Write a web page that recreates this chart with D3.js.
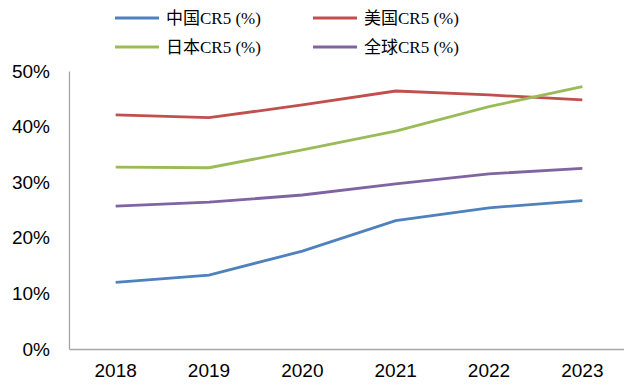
<!DOCTYPE html>
<html lang="zh">
<head>
	<meta charset="utf-8">
	<title>CR5</title>
	<script src="https://cdn.jsdelivr.net/npm/d3@7/dist/d3.min.js"></script>
	<style>
		body { margin: 0; background: #fff; }
	</style>
</head>
<body>
<script>
	// Data
	var years = ["2018", "2019", "2020", "2021", "2022", "2023"];
	var china = [12.0, 13.3, 17.6, 23.1, 25.4, 26.7];
	var usa = [42.1, 41.6, 43.9, 46.4, 45.7, 44.8];
	var japan = [32.7, 32.6, 35.8, 39.2, 43.6, 47.2];
	var world = [25.7, 26.4, 27.7, 29.7, 31.5, 32.5];
	var yTicks = [0, 10, 20, 30, 40, 50];

	var series = [
		{name: "中国CR5 (%)", values: china, color: "#4f81bd"},
		{name: "美国CR5 (%)", values: usa, color: "#c0504d"},
		{name: "日本CR5 (%)", values: japan, color: "#9bbb59"},
		{name: "全球CR5 (%)", values: world, color: "#8064a2"}
	];

	var width = 624, height = 385;
	var margin = {top: 71, right: -5, bottom: 36, left: 69};
	var plotW = width - margin.left - margin.right;
	var plotH = height - margin.top - margin.bottom;

	var svg = d3.select("body").append("svg")
		.attr("width", width)
		.attr("height", height);

	var g = svg.append("g")
		.attr("transform", "translate(" + margin.left + "," + margin.top + ")");

	var xScale = d3.scaleBand().domain(years).range([0, plotW]);
	var yScale = d3.scaleLinear().domain([0, 50]).range([plotH, 0]);

	// Y axis
	var yAxis = d3.axisLeft(yScale)
		.tickValues(yTicks)
		.tickSize(0)
		.tickPadding(19)
		.tickFormat(function(d) { return d + "%"; });
	var yg = g.append("g").call(yAxis);
	yg.select(".domain").attr("stroke", "#a6a6a6").attr("stroke-width", 1.3);
	yg.selectAll("text")
		.attr("font-family", "Liberation Sans, Arial, sans-serif")
		.attr("font-size", 19)
		.attr("fill", "#000");

	// X axis
	var xAxis = d3.axisBottom(xScale).tickSize(0).tickPadding(15);
	var xg = g.append("g")
		.attr("transform", "translate(0," + plotH + ")")
		.call(xAxis);
	xg.select(".domain").attr("stroke", "#a6a6a6").attr("stroke-width", 1.3);
	xg.selectAll("text")
		.attr("font-family", "Liberation Sans, Arial, sans-serif")
		.attr("font-size", 19)
		.attr("fill", "#000");

	// Lines
	var line = d3.line()
		.x(function(d, i) { return xScale(years[i]) + xScale.bandwidth() / 2; })
		.y(function(d) { return yScale(d); });

	g.selectAll(".series")
		.data(series)
		.enter()
		.append("path")
		.attr("class", "series")
		.attr("d", function(d) { return line(d.values); })
		.attr("fill", "none")
		.attr("stroke", function(d) { return d.color; })
		.attr("stroke-width", 2.8);

	// Legend
	var legend = svg.append("g");
	var legendPos = [[115, 18], [313, 18], [115, 47], [313, 47]];
	var items = legend.selectAll("g")
		.data(series)
		.enter()
		.append("g")
		.attr("transform", function(d, i) { return "translate(" + legendPos[i][0] + "," + legendPos[i][1] + ")"; });
	items.append("line")
		.attr("x1", 0).attr("x2", 44)
		.attr("y1", 0).attr("y2", 0)
		.attr("stroke", function(d) { return d.color; })
		.attr("stroke-width", 3.2);
	items.append("text")
		.attr("x", 51)
		.attr("y", 6)
		.attr("font-family", "Liberation Serif, Noto Sans CJK SC, serif")
		.attr("font-size", 17)
		.attr("fill", "#000")
		.text(function(d) { return d.name; });
</script>
</body>
</html>
